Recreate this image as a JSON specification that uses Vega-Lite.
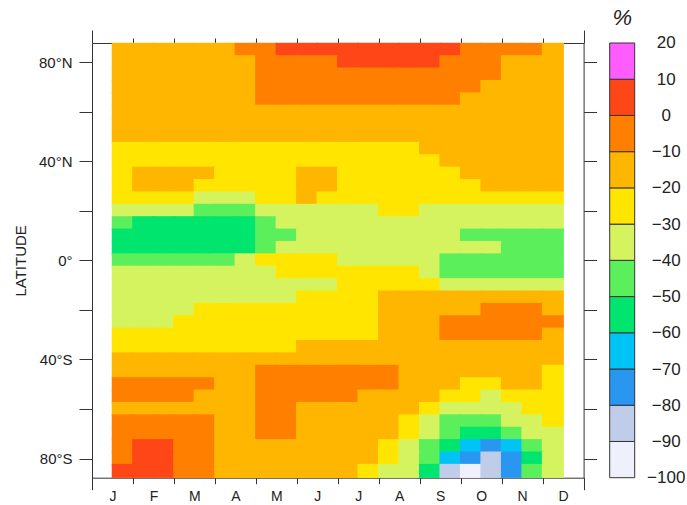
{
"$schema": "https://vega.github.io/schema/vega-lite/v6.json",
"background": "white",
"padding": {"left": 13, "top": 7, "right": 0, "bottom": 0},
"bounds": "flush",
"spacing": 25.7,
"config": {"view": {"stroke": null}, "font": "Liberation Sans", "axis": {"domainColor": "#333", "tickColor": "#333", "labelColor": "#222", "titleColor": "#222", "grid": false, "zindex": 1}},
"datasets": {"grid": [
{"m":0.75,"lat":85,"v":-15},{"m":1.25,"lat":85,"v":-15},{"m":1.75,"lat":85,"v":-15},{"m":2.25,"lat":85,"v":-15},{"m":2.75,"lat":85,"v":-15},{"m":3.25,"lat":85,"v":-15},{"m":3.75,"lat":85,"v":-5},{"m":4.25,"lat":85,"v":-5},{"m":4.75,"lat":85,"v":5},{"m":5.25,"lat":85,"v":5},{"m":5.75,"lat":85,"v":5},{"m":6.25,"lat":85,"v":5},{"m":6.75,"lat":85,"v":5},{"m":7.25,"lat":85,"v":5},{"m":7.75,"lat":85,"v":5},{"m":8.25,"lat":85,"v":5},{"m":8.75,"lat":85,"v":5},{"m":9.25,"lat":85,"v":-5},{"m":9.75,"lat":85,"v":-5},{"m":10.25,"lat":85,"v":-5},{"m":10.75,"lat":85,"v":-5},{"m":11.25,"lat":85,"v":-15},
{"m":0.75,"lat":80,"v":-15},{"m":1.25,"lat":80,"v":-15},{"m":1.75,"lat":80,"v":-15},{"m":2.25,"lat":80,"v":-15},{"m":2.75,"lat":80,"v":-15},{"m":3.25,"lat":80,"v":-15},{"m":3.75,"lat":80,"v":-15},{"m":4.25,"lat":80,"v":-5},{"m":4.75,"lat":80,"v":-5},{"m":5.25,"lat":80,"v":-5},{"m":5.75,"lat":80,"v":-5},{"m":6.25,"lat":80,"v":5},{"m":6.75,"lat":80,"v":5},{"m":7.25,"lat":80,"v":5},{"m":7.75,"lat":80,"v":5},{"m":8.25,"lat":80,"v":5},{"m":8.75,"lat":80,"v":-5},{"m":9.25,"lat":80,"v":-5},{"m":9.75,"lat":80,"v":-5},{"m":10.25,"lat":80,"v":-15},{"m":10.75,"lat":80,"v":-15},{"m":11.25,"lat":80,"v":-15},
{"m":0.75,"lat":75,"v":-15},{"m":1.25,"lat":75,"v":-15},{"m":1.75,"lat":75,"v":-15},{"m":2.25,"lat":75,"v":-15},{"m":2.75,"lat":75,"v":-15},{"m":3.25,"lat":75,"v":-15},{"m":3.75,"lat":75,"v":-15},{"m":4.25,"lat":75,"v":-5},{"m":4.75,"lat":75,"v":-5},{"m":5.25,"lat":75,"v":-5},{"m":5.75,"lat":75,"v":-5},{"m":6.25,"lat":75,"v":-5},{"m":6.75,"lat":75,"v":-5},{"m":7.25,"lat":75,"v":-5},{"m":7.75,"lat":75,"v":-5},{"m":8.25,"lat":75,"v":-5},{"m":8.75,"lat":75,"v":-5},{"m":9.25,"lat":75,"v":-5},{"m":9.75,"lat":75,"v":-5},{"m":10.25,"lat":75,"v":-15},{"m":10.75,"lat":75,"v":-15},{"m":11.25,"lat":75,"v":-15},
{"m":0.75,"lat":70,"v":-15},{"m":1.25,"lat":70,"v":-15},{"m":1.75,"lat":70,"v":-15},{"m":2.25,"lat":70,"v":-15},{"m":2.75,"lat":70,"v":-15},{"m":3.25,"lat":70,"v":-15},{"m":3.75,"lat":70,"v":-15},{"m":4.25,"lat":70,"v":-5},{"m":4.75,"lat":70,"v":-5},{"m":5.25,"lat":70,"v":-5},{"m":5.75,"lat":70,"v":-5},{"m":6.25,"lat":70,"v":-5},{"m":6.75,"lat":70,"v":-5},{"m":7.25,"lat":70,"v":-5},{"m":7.75,"lat":70,"v":-5},{"m":8.25,"lat":70,"v":-5},{"m":8.75,"lat":70,"v":-5},{"m":9.25,"lat":70,"v":-5},{"m":9.75,"lat":70,"v":-15},{"m":10.25,"lat":70,"v":-15},{"m":10.75,"lat":70,"v":-15},{"m":11.25,"lat":70,"v":-15},
{"m":0.75,"lat":65,"v":-15},{"m":1.25,"lat":65,"v":-15},{"m":1.75,"lat":65,"v":-15},{"m":2.25,"lat":65,"v":-15},{"m":2.75,"lat":65,"v":-15},{"m":3.25,"lat":65,"v":-15},{"m":3.75,"lat":65,"v":-15},{"m":4.25,"lat":65,"v":-5},{"m":4.75,"lat":65,"v":-5},{"m":5.25,"lat":65,"v":-5},{"m":5.75,"lat":65,"v":-5},{"m":6.25,"lat":65,"v":-5},{"m":6.75,"lat":65,"v":-5},{"m":7.25,"lat":65,"v":-5},{"m":7.75,"lat":65,"v":-5},{"m":8.25,"lat":65,"v":-5},{"m":8.75,"lat":65,"v":-5},{"m":9.25,"lat":65,"v":-15},{"m":9.75,"lat":65,"v":-15},{"m":10.25,"lat":65,"v":-15},{"m":10.75,"lat":65,"v":-15},{"m":11.25,"lat":65,"v":-15},
{"m":0.75,"lat":60,"v":-15},{"m":1.25,"lat":60,"v":-15},{"m":1.75,"lat":60,"v":-15},{"m":2.25,"lat":60,"v":-15},{"m":2.75,"lat":60,"v":-15},{"m":3.25,"lat":60,"v":-15},{"m":3.75,"lat":60,"v":-15},{"m":4.25,"lat":60,"v":-15},{"m":4.75,"lat":60,"v":-15},{"m":5.25,"lat":60,"v":-15},{"m":5.75,"lat":60,"v":-15},{"m":6.25,"lat":60,"v":-15},{"m":6.75,"lat":60,"v":-15},{"m":7.25,"lat":60,"v":-15},{"m":7.75,"lat":60,"v":-15},{"m":8.25,"lat":60,"v":-15},{"m":8.75,"lat":60,"v":-15},{"m":9.25,"lat":60,"v":-15},{"m":9.75,"lat":60,"v":-15},{"m":10.25,"lat":60,"v":-15},{"m":10.75,"lat":60,"v":-15},{"m":11.25,"lat":60,"v":-15},
{"m":0.75,"lat":55,"v":-15},{"m":1.25,"lat":55,"v":-15},{"m":1.75,"lat":55,"v":-15},{"m":2.25,"lat":55,"v":-15},{"m":2.75,"lat":55,"v":-15},{"m":3.25,"lat":55,"v":-15},{"m":3.75,"lat":55,"v":-15},{"m":4.25,"lat":55,"v":-15},{"m":4.75,"lat":55,"v":-15},{"m":5.25,"lat":55,"v":-15},{"m":5.75,"lat":55,"v":-15},{"m":6.25,"lat":55,"v":-15},{"m":6.75,"lat":55,"v":-15},{"m":7.25,"lat":55,"v":-15},{"m":7.75,"lat":55,"v":-15},{"m":8.25,"lat":55,"v":-15},{"m":8.75,"lat":55,"v":-15},{"m":9.25,"lat":55,"v":-15},{"m":9.75,"lat":55,"v":-15},{"m":10.25,"lat":55,"v":-15},{"m":10.75,"lat":55,"v":-15},{"m":11.25,"lat":55,"v":-15},
{"m":0.75,"lat":50,"v":-15},{"m":1.25,"lat":50,"v":-15},{"m":1.75,"lat":50,"v":-15},{"m":2.25,"lat":50,"v":-15},{"m":2.75,"lat":50,"v":-15},{"m":3.25,"lat":50,"v":-15},{"m":3.75,"lat":50,"v":-15},{"m":4.25,"lat":50,"v":-15},{"m":4.75,"lat":50,"v":-15},{"m":5.25,"lat":50,"v":-15},{"m":5.75,"lat":50,"v":-15},{"m":6.25,"lat":50,"v":-15},{"m":6.75,"lat":50,"v":-15},{"m":7.25,"lat":50,"v":-15},{"m":7.75,"lat":50,"v":-15},{"m":8.25,"lat":50,"v":-15},{"m":8.75,"lat":50,"v":-15},{"m":9.25,"lat":50,"v":-15},{"m":9.75,"lat":50,"v":-15},{"m":10.25,"lat":50,"v":-15},{"m":10.75,"lat":50,"v":-15},{"m":11.25,"lat":50,"v":-15},
{"m":0.75,"lat":45,"v":-25},{"m":1.25,"lat":45,"v":-25},{"m":1.75,"lat":45,"v":-25},{"m":2.25,"lat":45,"v":-25},{"m":2.75,"lat":45,"v":-25},{"m":3.25,"lat":45,"v":-25},{"m":3.75,"lat":45,"v":-25},{"m":4.25,"lat":45,"v":-25},{"m":4.75,"lat":45,"v":-25},{"m":5.25,"lat":45,"v":-25},{"m":5.75,"lat":45,"v":-25},{"m":6.25,"lat":45,"v":-25},{"m":6.75,"lat":45,"v":-25},{"m":7.25,"lat":45,"v":-25},{"m":7.75,"lat":45,"v":-25},{"m":8.25,"lat":45,"v":-15},{"m":8.75,"lat":45,"v":-15},{"m":9.25,"lat":45,"v":-15},{"m":9.75,"lat":45,"v":-15},{"m":10.25,"lat":45,"v":-15},{"m":10.75,"lat":45,"v":-15},{"m":11.25,"lat":45,"v":-15},
{"m":0.75,"lat":40,"v":-25},{"m":1.25,"lat":40,"v":-25},{"m":1.75,"lat":40,"v":-25},{"m":2.25,"lat":40,"v":-25},{"m":2.75,"lat":40,"v":-25},{"m":3.25,"lat":40,"v":-25},{"m":3.75,"lat":40,"v":-25},{"m":4.25,"lat":40,"v":-25},{"m":4.75,"lat":40,"v":-25},{"m":5.25,"lat":40,"v":-25},{"m":5.75,"lat":40,"v":-25},{"m":6.25,"lat":40,"v":-25},{"m":6.75,"lat":40,"v":-25},{"m":7.25,"lat":40,"v":-25},{"m":7.75,"lat":40,"v":-25},{"m":8.25,"lat":40,"v":-25},{"m":8.75,"lat":40,"v":-15},{"m":9.25,"lat":40,"v":-15},{"m":9.75,"lat":40,"v":-15},{"m":10.25,"lat":40,"v":-15},{"m":10.75,"lat":40,"v":-15},{"m":11.25,"lat":40,"v":-15},
{"m":0.75,"lat":35,"v":-25},{"m":1.25,"lat":35,"v":-15},{"m":1.75,"lat":35,"v":-15},{"m":2.25,"lat":35,"v":-15},{"m":2.75,"lat":35,"v":-15},{"m":3.25,"lat":35,"v":-25},{"m":3.75,"lat":35,"v":-25},{"m":4.25,"lat":35,"v":-25},{"m":4.75,"lat":35,"v":-25},{"m":5.25,"lat":35,"v":-15},{"m":5.75,"lat":35,"v":-15},{"m":6.25,"lat":35,"v":-25},{"m":6.75,"lat":35,"v":-25},{"m":7.25,"lat":35,"v":-25},{"m":7.75,"lat":35,"v":-25},{"m":8.25,"lat":35,"v":-25},{"m":8.75,"lat":35,"v":-25},{"m":9.25,"lat":35,"v":-15},{"m":9.75,"lat":35,"v":-15},{"m":10.25,"lat":35,"v":-15},{"m":10.75,"lat":35,"v":-15},{"m":11.25,"lat":35,"v":-15},
{"m":0.75,"lat":30,"v":-25},{"m":1.25,"lat":30,"v":-15},{"m":1.75,"lat":30,"v":-15},{"m":2.25,"lat":30,"v":-15},{"m":2.75,"lat":30,"v":-25},{"m":3.25,"lat":30,"v":-25},{"m":3.75,"lat":30,"v":-25},{"m":4.25,"lat":30,"v":-25},{"m":4.75,"lat":30,"v":-25},{"m":5.25,"lat":30,"v":-15},{"m":5.75,"lat":30,"v":-15},{"m":6.25,"lat":30,"v":-25},{"m":6.75,"lat":30,"v":-25},{"m":7.25,"lat":30,"v":-25},{"m":7.75,"lat":30,"v":-25},{"m":8.25,"lat":30,"v":-25},{"m":8.75,"lat":30,"v":-25},{"m":9.25,"lat":30,"v":-25},{"m":9.75,"lat":30,"v":-15},{"m":10.25,"lat":30,"v":-15},{"m":10.75,"lat":30,"v":-15},{"m":11.25,"lat":30,"v":-15},
{"m":0.75,"lat":25,"v":-25},{"m":1.25,"lat":25,"v":-25},{"m":1.75,"lat":25,"v":-25},{"m":2.25,"lat":25,"v":-25},{"m":2.75,"lat":25,"v":-35},{"m":3.25,"lat":25,"v":-35},{"m":3.75,"lat":25,"v":-35},{"m":4.25,"lat":25,"v":-25},{"m":4.75,"lat":25,"v":-25},{"m":5.25,"lat":25,"v":-15},{"m":5.75,"lat":25,"v":-25},{"m":6.25,"lat":25,"v":-25},{"m":6.75,"lat":25,"v":-25},{"m":7.25,"lat":25,"v":-25},{"m":7.75,"lat":25,"v":-25},{"m":8.25,"lat":25,"v":-25},{"m":8.75,"lat":25,"v":-25},{"m":9.25,"lat":25,"v":-25},{"m":9.75,"lat":25,"v":-25},{"m":10.25,"lat":25,"v":-25},{"m":10.75,"lat":25,"v":-25},{"m":11.25,"lat":25,"v":-25},
{"m":0.75,"lat":20,"v":-35},{"m":1.25,"lat":20,"v":-35},{"m":1.75,"lat":20,"v":-35},{"m":2.25,"lat":20,"v":-35},{"m":2.75,"lat":20,"v":-45},{"m":3.25,"lat":20,"v":-45},{"m":3.75,"lat":20,"v":-45},{"m":4.25,"lat":20,"v":-35},{"m":4.75,"lat":20,"v":-35},{"m":5.25,"lat":20,"v":-35},{"m":5.75,"lat":20,"v":-35},{"m":6.25,"lat":20,"v":-35},{"m":6.75,"lat":20,"v":-35},{"m":7.25,"lat":20,"v":-25},{"m":7.75,"lat":20,"v":-25},{"m":8.25,"lat":20,"v":-35},{"m":8.75,"lat":20,"v":-35},{"m":9.25,"lat":20,"v":-35},{"m":9.75,"lat":20,"v":-35},{"m":10.25,"lat":20,"v":-35},{"m":10.75,"lat":20,"v":-35},{"m":11.25,"lat":20,"v":-35},
{"m":0.75,"lat":15,"v":-45},{"m":1.25,"lat":15,"v":-55},{"m":1.75,"lat":15,"v":-55},{"m":2.25,"lat":15,"v":-55},{"m":2.75,"lat":15,"v":-55},{"m":3.25,"lat":15,"v":-55},{"m":3.75,"lat":15,"v":-55},{"m":4.25,"lat":15,"v":-45},{"m":4.75,"lat":15,"v":-35},{"m":5.25,"lat":15,"v":-35},{"m":5.75,"lat":15,"v":-35},{"m":6.25,"lat":15,"v":-35},{"m":6.75,"lat":15,"v":-35},{"m":7.25,"lat":15,"v":-35},{"m":7.75,"lat":15,"v":-35},{"m":8.25,"lat":15,"v":-35},{"m":8.75,"lat":15,"v":-35},{"m":9.25,"lat":15,"v":-35},{"m":9.75,"lat":15,"v":-35},{"m":10.25,"lat":15,"v":-35},{"m":10.75,"lat":15,"v":-35},{"m":11.25,"lat":15,"v":-35},
{"m":0.75,"lat":10,"v":-55},{"m":1.25,"lat":10,"v":-55},{"m":1.75,"lat":10,"v":-55},{"m":2.25,"lat":10,"v":-55},{"m":2.75,"lat":10,"v":-55},{"m":3.25,"lat":10,"v":-55},{"m":3.75,"lat":10,"v":-55},{"m":4.25,"lat":10,"v":-45},{"m":4.75,"lat":10,"v":-45},{"m":5.25,"lat":10,"v":-35},{"m":5.75,"lat":10,"v":-35},{"m":6.25,"lat":10,"v":-35},{"m":6.75,"lat":10,"v":-35},{"m":7.25,"lat":10,"v":-35},{"m":7.75,"lat":10,"v":-35},{"m":8.25,"lat":10,"v":-35},{"m":8.75,"lat":10,"v":-35},{"m":9.25,"lat":10,"v":-45},{"m":9.75,"lat":10,"v":-45},{"m":10.25,"lat":10,"v":-45},{"m":10.75,"lat":10,"v":-45},{"m":11.25,"lat":10,"v":-45},
{"m":0.75,"lat":5,"v":-55},{"m":1.25,"lat":5,"v":-55},{"m":1.75,"lat":5,"v":-55},{"m":2.25,"lat":5,"v":-55},{"m":2.75,"lat":5,"v":-55},{"m":3.25,"lat":5,"v":-55},{"m":3.75,"lat":5,"v":-55},{"m":4.25,"lat":5,"v":-45},{"m":4.75,"lat":5,"v":-35},{"m":5.25,"lat":5,"v":-35},{"m":5.75,"lat":5,"v":-35},{"m":6.25,"lat":5,"v":-35},{"m":6.75,"lat":5,"v":-35},{"m":7.25,"lat":5,"v":-35},{"m":7.75,"lat":5,"v":-35},{"m":8.25,"lat":5,"v":-35},{"m":8.75,"lat":5,"v":-35},{"m":9.25,"lat":5,"v":-35},{"m":9.75,"lat":5,"v":-35},{"m":10.25,"lat":5,"v":-45},{"m":10.75,"lat":5,"v":-45},{"m":11.25,"lat":5,"v":-45},
{"m":0.75,"lat":0,"v":-45},{"m":1.25,"lat":0,"v":-45},{"m":1.75,"lat":0,"v":-45},{"m":2.25,"lat":0,"v":-45},{"m":2.75,"lat":0,"v":-45},{"m":3.25,"lat":0,"v":-45},{"m":3.75,"lat":0,"v":-35},{"m":4.25,"lat":0,"v":-25},{"m":4.75,"lat":0,"v":-25},{"m":5.25,"lat":0,"v":-25},{"m":5.75,"lat":0,"v":-25},{"m":6.25,"lat":0,"v":-35},{"m":6.75,"lat":0,"v":-35},{"m":7.25,"lat":0,"v":-35},{"m":7.75,"lat":0,"v":-35},{"m":8.25,"lat":0,"v":-35},{"m":8.75,"lat":0,"v":-45},{"m":9.25,"lat":0,"v":-45},{"m":9.75,"lat":0,"v":-45},{"m":10.25,"lat":0,"v":-45},{"m":10.75,"lat":0,"v":-45},{"m":11.25,"lat":0,"v":-45},
{"m":0.75,"lat":-5,"v":-35},{"m":1.25,"lat":-5,"v":-35},{"m":1.75,"lat":-5,"v":-35},{"m":2.25,"lat":-5,"v":-35},{"m":2.75,"lat":-5,"v":-35},{"m":3.25,"lat":-5,"v":-35},{"m":3.75,"lat":-5,"v":-35},{"m":4.25,"lat":-5,"v":-35},{"m":4.75,"lat":-5,"v":-25},{"m":5.25,"lat":-5,"v":-25},{"m":5.75,"lat":-5,"v":-25},{"m":6.25,"lat":-5,"v":-25},{"m":6.75,"lat":-5,"v":-25},{"m":7.25,"lat":-5,"v":-25},{"m":7.75,"lat":-5,"v":-25},{"m":8.25,"lat":-5,"v":-35},{"m":8.75,"lat":-5,"v":-45},{"m":9.25,"lat":-5,"v":-45},{"m":9.75,"lat":-5,"v":-45},{"m":10.25,"lat":-5,"v":-45},{"m":10.75,"lat":-5,"v":-45},{"m":11.25,"lat":-5,"v":-45},
{"m":0.75,"lat":-10,"v":-35},{"m":1.25,"lat":-10,"v":-35},{"m":1.75,"lat":-10,"v":-35},{"m":2.25,"lat":-10,"v":-35},{"m":2.75,"lat":-10,"v":-35},{"m":3.25,"lat":-10,"v":-35},{"m":3.75,"lat":-10,"v":-35},{"m":4.25,"lat":-10,"v":-35},{"m":4.75,"lat":-10,"v":-35},{"m":5.25,"lat":-10,"v":-35},{"m":5.75,"lat":-10,"v":-35},{"m":6.25,"lat":-10,"v":-25},{"m":6.75,"lat":-10,"v":-25},{"m":7.25,"lat":-10,"v":-25},{"m":7.75,"lat":-10,"v":-25},{"m":8.25,"lat":-10,"v":-25},{"m":8.75,"lat":-10,"v":-35},{"m":9.25,"lat":-10,"v":-35},{"m":9.75,"lat":-10,"v":-35},{"m":10.25,"lat":-10,"v":-35},{"m":10.75,"lat":-10,"v":-35},{"m":11.25,"lat":-10,"v":-35},
{"m":0.75,"lat":-15,"v":-35},{"m":1.25,"lat":-15,"v":-35},{"m":1.75,"lat":-15,"v":-35},{"m":2.25,"lat":-15,"v":-35},{"m":2.75,"lat":-15,"v":-35},{"m":3.25,"lat":-15,"v":-35},{"m":3.75,"lat":-15,"v":-35},{"m":4.25,"lat":-15,"v":-35},{"m":4.75,"lat":-15,"v":-35},{"m":5.25,"lat":-15,"v":-25},{"m":5.75,"lat":-15,"v":-25},{"m":6.25,"lat":-15,"v":-25},{"m":6.75,"lat":-15,"v":-25},{"m":7.25,"lat":-15,"v":-15},{"m":7.75,"lat":-15,"v":-15},{"m":8.25,"lat":-15,"v":-15},{"m":8.75,"lat":-15,"v":-15},{"m":9.25,"lat":-15,"v":-15},{"m":9.75,"lat":-15,"v":-15},{"m":10.25,"lat":-15,"v":-15},{"m":10.75,"lat":-15,"v":-15},{"m":11.25,"lat":-15,"v":-15},
{"m":0.75,"lat":-20,"v":-35},{"m":1.25,"lat":-20,"v":-35},{"m":1.75,"lat":-20,"v":-35},{"m":2.25,"lat":-20,"v":-35},{"m":2.75,"lat":-20,"v":-25},{"m":3.25,"lat":-20,"v":-25},{"m":3.75,"lat":-20,"v":-25},{"m":4.25,"lat":-20,"v":-25},{"m":4.75,"lat":-20,"v":-25},{"m":5.25,"lat":-20,"v":-25},{"m":5.75,"lat":-20,"v":-25},{"m":6.25,"lat":-20,"v":-25},{"m":6.75,"lat":-20,"v":-25},{"m":7.25,"lat":-20,"v":-15},{"m":7.75,"lat":-20,"v":-15},{"m":8.25,"lat":-20,"v":-15},{"m":8.75,"lat":-20,"v":-15},{"m":9.25,"lat":-20,"v":-15},{"m":9.75,"lat":-20,"v":-5},{"m":10.25,"lat":-20,"v":-5},{"m":10.75,"lat":-20,"v":-5},{"m":11.25,"lat":-20,"v":-15},
{"m":0.75,"lat":-25,"v":-35},{"m":1.25,"lat":-25,"v":-35},{"m":1.75,"lat":-25,"v":-35},{"m":2.25,"lat":-25,"v":-25},{"m":2.75,"lat":-25,"v":-25},{"m":3.25,"lat":-25,"v":-25},{"m":3.75,"lat":-25,"v":-25},{"m":4.25,"lat":-25,"v":-25},{"m":4.75,"lat":-25,"v":-25},{"m":5.25,"lat":-25,"v":-25},{"m":5.75,"lat":-25,"v":-25},{"m":6.25,"lat":-25,"v":-25},{"m":6.75,"lat":-25,"v":-25},{"m":7.25,"lat":-25,"v":-15},{"m":7.75,"lat":-25,"v":-15},{"m":8.25,"lat":-25,"v":-15},{"m":8.75,"lat":-25,"v":-5},{"m":9.25,"lat":-25,"v":-5},{"m":9.75,"lat":-25,"v":-5},{"m":10.25,"lat":-25,"v":-5},{"m":10.75,"lat":-25,"v":-5},{"m":11.25,"lat":-25,"v":-5},
{"m":0.75,"lat":-30,"v":-25},{"m":1.25,"lat":-30,"v":-25},{"m":1.75,"lat":-30,"v":-25},{"m":2.25,"lat":-30,"v":-25},{"m":2.75,"lat":-30,"v":-25},{"m":3.25,"lat":-30,"v":-25},{"m":3.75,"lat":-30,"v":-25},{"m":4.25,"lat":-30,"v":-25},{"m":4.75,"lat":-30,"v":-25},{"m":5.25,"lat":-30,"v":-25},{"m":5.75,"lat":-30,"v":-25},{"m":6.25,"lat":-30,"v":-25},{"m":6.75,"lat":-30,"v":-25},{"m":7.25,"lat":-30,"v":-15},{"m":7.75,"lat":-30,"v":-15},{"m":8.25,"lat":-30,"v":-15},{"m":8.75,"lat":-30,"v":-5},{"m":9.25,"lat":-30,"v":-5},{"m":9.75,"lat":-30,"v":-5},{"m":10.25,"lat":-30,"v":-5},{"m":10.75,"lat":-30,"v":-5},{"m":11.25,"lat":-30,"v":-15},
{"m":0.75,"lat":-35,"v":-25},{"m":1.25,"lat":-35,"v":-25},{"m":1.75,"lat":-35,"v":-25},{"m":2.25,"lat":-35,"v":-25},{"m":2.75,"lat":-35,"v":-25},{"m":3.25,"lat":-35,"v":-25},{"m":3.75,"lat":-35,"v":-25},{"m":4.25,"lat":-35,"v":-25},{"m":4.75,"lat":-35,"v":-25},{"m":5.25,"lat":-35,"v":-15},{"m":5.75,"lat":-35,"v":-15},{"m":6.25,"lat":-35,"v":-15},{"m":6.75,"lat":-35,"v":-15},{"m":7.25,"lat":-35,"v":-15},{"m":7.75,"lat":-35,"v":-15},{"m":8.25,"lat":-35,"v":-15},{"m":8.75,"lat":-35,"v":-15},{"m":9.25,"lat":-35,"v":-15},{"m":9.75,"lat":-35,"v":-15},{"m":10.25,"lat":-35,"v":-15},{"m":10.75,"lat":-35,"v":-15},{"m":11.25,"lat":-35,"v":-15},
{"m":0.75,"lat":-40,"v":-15},{"m":1.25,"lat":-40,"v":-15},{"m":1.75,"lat":-40,"v":-15},{"m":2.25,"lat":-40,"v":-15},{"m":2.75,"lat":-40,"v":-15},{"m":3.25,"lat":-40,"v":-15},{"m":3.75,"lat":-40,"v":-15},{"m":4.25,"lat":-40,"v":-15},{"m":4.75,"lat":-40,"v":-15},{"m":5.25,"lat":-40,"v":-15},{"m":5.75,"lat":-40,"v":-15},{"m":6.25,"lat":-40,"v":-15},{"m":6.75,"lat":-40,"v":-15},{"m":7.25,"lat":-40,"v":-15},{"m":7.75,"lat":-40,"v":-15},{"m":8.25,"lat":-40,"v":-15},{"m":8.75,"lat":-40,"v":-15},{"m":9.25,"lat":-40,"v":-15},{"m":9.75,"lat":-40,"v":-15},{"m":10.25,"lat":-40,"v":-15},{"m":10.75,"lat":-40,"v":-15},{"m":11.25,"lat":-40,"v":-15},
{"m":0.75,"lat":-45,"v":-15},{"m":1.25,"lat":-45,"v":-15},{"m":1.75,"lat":-45,"v":-15},{"m":2.25,"lat":-45,"v":-15},{"m":2.75,"lat":-45,"v":-15},{"m":3.25,"lat":-45,"v":-15},{"m":3.75,"lat":-45,"v":-15},{"m":4.25,"lat":-45,"v":-5},{"m":4.75,"lat":-45,"v":-5},{"m":5.25,"lat":-45,"v":-5},{"m":5.75,"lat":-45,"v":-5},{"m":6.25,"lat":-45,"v":-5},{"m":6.75,"lat":-45,"v":-5},{"m":7.25,"lat":-45,"v":-5},{"m":7.75,"lat":-45,"v":-15},{"m":8.25,"lat":-45,"v":-15},{"m":8.75,"lat":-45,"v":-15},{"m":9.25,"lat":-45,"v":-15},{"m":9.75,"lat":-45,"v":-15},{"m":10.25,"lat":-45,"v":-15},{"m":10.75,"lat":-45,"v":-15},{"m":11.25,"lat":-45,"v":-25},
{"m":0.75,"lat":-50,"v":-5},{"m":1.25,"lat":-50,"v":-5},{"m":1.75,"lat":-50,"v":-5},{"m":2.25,"lat":-50,"v":-5},{"m":2.75,"lat":-50,"v":-5},{"m":3.25,"lat":-50,"v":-15},{"m":3.75,"lat":-50,"v":-15},{"m":4.25,"lat":-50,"v":-5},{"m":4.75,"lat":-50,"v":-5},{"m":5.25,"lat":-50,"v":-5},{"m":5.75,"lat":-50,"v":-5},{"m":6.25,"lat":-50,"v":-5},{"m":6.75,"lat":-50,"v":-5},{"m":7.25,"lat":-50,"v":-5},{"m":7.75,"lat":-50,"v":-15},{"m":8.25,"lat":-50,"v":-15},{"m":8.75,"lat":-50,"v":-15},{"m":9.25,"lat":-50,"v":-25},{"m":9.75,"lat":-50,"v":-25},{"m":10.25,"lat":-50,"v":-15},{"m":10.75,"lat":-50,"v":-15},{"m":11.25,"lat":-50,"v":-25},
{"m":0.75,"lat":-55,"v":-5},{"m":1.25,"lat":-55,"v":-5},{"m":1.75,"lat":-55,"v":-5},{"m":2.25,"lat":-55,"v":-5},{"m":2.75,"lat":-55,"v":-15},{"m":3.25,"lat":-55,"v":-15},{"m":3.75,"lat":-55,"v":-15},{"m":4.25,"lat":-55,"v":-5},{"m":4.75,"lat":-55,"v":-5},{"m":5.25,"lat":-55,"v":-5},{"m":5.75,"lat":-55,"v":-5},{"m":6.25,"lat":-55,"v":-5},{"m":6.75,"lat":-55,"v":-15},{"m":7.25,"lat":-55,"v":-15},{"m":7.75,"lat":-55,"v":-15},{"m":8.25,"lat":-55,"v":-15},{"m":8.75,"lat":-55,"v":-25},{"m":9.25,"lat":-55,"v":-25},{"m":9.75,"lat":-55,"v":-35},{"m":10.25,"lat":-55,"v":-25},{"m":10.75,"lat":-55,"v":-25},{"m":11.25,"lat":-55,"v":-25},
{"m":0.75,"lat":-60,"v":-15},{"m":1.25,"lat":-60,"v":-15},{"m":1.75,"lat":-60,"v":-15},{"m":2.25,"lat":-60,"v":-15},{"m":2.75,"lat":-60,"v":-15},{"m":3.25,"lat":-60,"v":-15},{"m":3.75,"lat":-60,"v":-15},{"m":4.25,"lat":-60,"v":-5},{"m":4.75,"lat":-60,"v":-5},{"m":5.25,"lat":-60,"v":-15},{"m":5.75,"lat":-60,"v":-15},{"m":6.25,"lat":-60,"v":-15},{"m":6.75,"lat":-60,"v":-15},{"m":7.25,"lat":-60,"v":-15},{"m":7.75,"lat":-60,"v":-15},{"m":8.25,"lat":-60,"v":-25},{"m":8.75,"lat":-60,"v":-35},{"m":9.25,"lat":-60,"v":-35},{"m":9.75,"lat":-60,"v":-35},{"m":10.25,"lat":-60,"v":-35},{"m":10.75,"lat":-60,"v":-25},{"m":11.25,"lat":-60,"v":-25},
{"m":0.75,"lat":-65,"v":-5},{"m":1.25,"lat":-65,"v":-5},{"m":1.75,"lat":-65,"v":-5},{"m":2.25,"lat":-65,"v":-5},{"m":2.75,"lat":-65,"v":-5},{"m":3.25,"lat":-65,"v":-15},{"m":3.75,"lat":-65,"v":-15},{"m":4.25,"lat":-65,"v":-5},{"m":4.75,"lat":-65,"v":-5},{"m":5.25,"lat":-65,"v":-15},{"m":5.75,"lat":-65,"v":-15},{"m":6.25,"lat":-65,"v":-15},{"m":6.75,"lat":-65,"v":-15},{"m":7.25,"lat":-65,"v":-15},{"m":7.75,"lat":-65,"v":-25},{"m":8.25,"lat":-65,"v":-35},{"m":8.75,"lat":-65,"v":-45},{"m":9.25,"lat":-65,"v":-45},{"m":9.75,"lat":-65,"v":-45},{"m":10.25,"lat":-65,"v":-35},{"m":10.75,"lat":-65,"v":-35},{"m":11.25,"lat":-65,"v":-25},
{"m":0.75,"lat":-70,"v":-5},{"m":1.25,"lat":-70,"v":-5},{"m":1.75,"lat":-70,"v":-5},{"m":2.25,"lat":-70,"v":-5},{"m":2.75,"lat":-70,"v":-5},{"m":3.25,"lat":-70,"v":-15},{"m":3.75,"lat":-70,"v":-15},{"m":4.25,"lat":-70,"v":-5},{"m":4.75,"lat":-70,"v":-5},{"m":5.25,"lat":-70,"v":-15},{"m":5.75,"lat":-70,"v":-15},{"m":6.25,"lat":-70,"v":-15},{"m":6.75,"lat":-70,"v":-15},{"m":7.25,"lat":-70,"v":-15},{"m":7.75,"lat":-70,"v":-25},{"m":8.25,"lat":-70,"v":-35},{"m":8.75,"lat":-70,"v":-45},{"m":9.25,"lat":-70,"v":-55},{"m":9.75,"lat":-70,"v":-55},{"m":10.25,"lat":-70,"v":-45},{"m":10.75,"lat":-70,"v":-35},{"m":11.25,"lat":-70,"v":-35},
{"m":0.75,"lat":-75,"v":-5},{"m":1.25,"lat":-75,"v":5},{"m":1.75,"lat":-75,"v":5},{"m":2.25,"lat":-75,"v":-5},{"m":2.75,"lat":-75,"v":-5},{"m":3.25,"lat":-75,"v":-15},{"m":3.75,"lat":-75,"v":-15},{"m":4.25,"lat":-75,"v":-15},{"m":4.75,"lat":-75,"v":-15},{"m":5.25,"lat":-75,"v":-15},{"m":5.75,"lat":-75,"v":-15},{"m":6.25,"lat":-75,"v":-15},{"m":6.75,"lat":-75,"v":-15},{"m":7.25,"lat":-75,"v":-25},{"m":7.75,"lat":-75,"v":-35},{"m":8.25,"lat":-75,"v":-45},{"m":8.75,"lat":-75,"v":-55},{"m":9.25,"lat":-75,"v":-65},{"m":9.75,"lat":-75,"v":-75},{"m":10.25,"lat":-75,"v":-65},{"m":10.75,"lat":-75,"v":-45},{"m":11.25,"lat":-75,"v":-35},
{"m":0.75,"lat":-80,"v":-5},{"m":1.25,"lat":-80,"v":5},{"m":1.75,"lat":-80,"v":5},{"m":2.25,"lat":-80,"v":-5},{"m":2.75,"lat":-80,"v":-5},{"m":3.25,"lat":-80,"v":-15},{"m":3.75,"lat":-80,"v":-15},{"m":4.25,"lat":-80,"v":-15},{"m":4.75,"lat":-80,"v":-15},{"m":5.25,"lat":-80,"v":-15},{"m":5.75,"lat":-80,"v":-15},{"m":6.25,"lat":-80,"v":-15},{"m":6.75,"lat":-80,"v":-15},{"m":7.25,"lat":-80,"v":-25},{"m":7.75,"lat":-80,"v":-35},{"m":8.25,"lat":-80,"v":-45},{"m":8.75,"lat":-80,"v":-65},{"m":9.25,"lat":-80,"v":-75},{"m":9.75,"lat":-80,"v":-85},{"m":10.25,"lat":-80,"v":-75},{"m":10.75,"lat":-80,"v":-55},{"m":11.25,"lat":-80,"v":-35},
{"m":0.75,"lat":-85,"v":5},{"m":1.25,"lat":-85,"v":5},{"m":1.75,"lat":-85,"v":5},{"m":2.25,"lat":-85,"v":-5},{"m":2.75,"lat":-85,"v":-5},{"m":3.25,"lat":-85,"v":-15},{"m":3.75,"lat":-85,"v":-15},{"m":4.25,"lat":-85,"v":-15},{"m":4.75,"lat":-85,"v":-15},{"m":5.25,"lat":-85,"v":-15},{"m":5.75,"lat":-85,"v":-15},{"m":6.25,"lat":-85,"v":-15},{"m":6.75,"lat":-85,"v":-25},{"m":7.25,"lat":-85,"v":-35},{"m":7.75,"lat":-85,"v":-35},{"m":8.25,"lat":-85,"v":-55},{"m":8.75,"lat":-85,"v":-85},{"m":9.25,"lat":-85,"v":-95},{"m":9.75,"lat":-85,"v":-85},{"m":10.25,"lat":-85,"v":-75},{"m":10.75,"lat":-85,"v":-45},{"m":11.25,"lat":-85,"v":-35}
]},
"hconcat": [
{
"width": 491.6,
"height": 434.7,
"layer": [
{
"data": {"name": "grid"},
"mark": {"type": "rect", "width": 22, "height": 14},
"encoding": {
"x": {"field": "m", "type": "quantitative", "scale": {"domain": [0, 12], "nice": false, "zero": false},
"axis": {"orient": "bottom", "values": [0,1,2,3,4,5,6,7,8,9,10,11,12], "tickSize": 6, "labelExpr": "datum.value < 12 ? ['J','F','M','A','M','J','J','A','S','O','N','D'][datum.value] : ''", "labelOffset": 20.5, "labelFontSize": 14, "labelPadding": 6, "labelFlush": false, "labelOverlap": false, "labelBound": false, "title": null}},
"y": {"field": "lat", "type": "quantitative", "scale": {"domain": [-87.75, 87.75], "nice": false, "zero": false},
"axis": {"orient": "left", "values": [-80,-60,-40,-20,0,20,40,60,80], "tickSize": 13, "labelExpr": "datum.value == 0 ? '0°' : (abs(datum.value) % 40 == 0 ? abs(datum.value) + '°' + (datum.value > 0 ? 'N' : 'S') : '')", "labelFontSize": 15, "labelPadding": 7, "labelOverlap": false, "labelFlush": false, "title": "LATITUDE", "titleFontSize": 15, "titleFontWeight": "normal", "titlePadding": 10}},
"color": {"field": "v", "type": "quantitative", "scale": {"type": "threshold", "domain": [-90,-80,-70,-60,-50,-40,-30,-20,-10,0,10], "range": ["#eef0fc","#c0cde8","#2997f0","#00c4f6","#00e56e","#5cef5c","#d5f35f","#ffe500","#ffb600","#ff8000","#ff4616","#ff5cff"]}, "legend": null}
}
},
{
"data": {"values": [{"m": 6, "lat": 0}]},
"mark": {"type": "point", "opacity": 0},
"encoding": {
"x": {"field": "m", "type": "quantitative", "scale": {"domain": [0, 12], "nice": false, "zero": false}, "axis": {"orient": "top", "values": [1,2,3,4,5,6,7,8,9,10,11], "tickSize": 5, "labels": false, "title": null}},
"y": {"field": "lat", "type": "quantitative", "scale": {"domain": [-87.75, 87.75], "nice": false, "zero": false}, "axis": {"orient": "right", "values": [-80,-60,-40,-20,0,20,40,60,80], "tickSize": 13, "labels": false, "title": null}}
}
},
{
"data": {"values": [{"m": 6, "lat": 0}]},
"mark": {"type": "point", "opacity": 0},
"encoding": {
"x": {"field": "m", "type": "quantitative", "scale": {"domain": [0, 12], "nice": false, "zero": false}, "axis": {"orient": "bottom", "values": [0, 12], "tickSize": 12, "labels": false, "domain": false, "title": null}},
"y": {"field": "lat", "type": "quantitative", "scale": {"domain": [-87.75, 87.75], "nice": false, "zero": false}, "axis": null}
}
},
{
"data": {"values": [{"m": 6, "lat": 0}]},
"mark": {"type": "point", "opacity": 0},
"encoding": {
"x": {"field": "m", "type": "quantitative", "scale": {"domain": [0, 12], "nice": false, "zero": false}, "axis": {"orient": "top", "values": [0, 12], "tickSize": 13, "labels": false, "domain": false, "title": null}},
"y": {"field": "lat", "type": "quantitative", "scale": {"domain": [-87.75, 87.75], "nice": false, "zero": false}, "axis": null}
}
}
],
"resolve": {"axis": {"x": "independent", "y": "independent"}}
},
{
"width": 25,
"height": 434.7,
"title": {"text": "%", "fontSize": 22, "fontStyle": "italic", "fontWeight": "normal", "anchor": "middle", "offset": 4, "color": "#222"},
"data": {"values": [
{"lo": -100, "hi": -90, "v": -95},{"lo": -90, "hi": -80, "v": -85},{"lo": -80, "hi": -70, "v": -75},{"lo": -70, "hi": -60, "v": -65},{"lo": -60, "hi": -50, "v": -55},{"lo": -50, "hi": -40, "v": -45},{"lo": -40, "hi": -30, "v": -35},{"lo": -30, "hi": -20, "v": -25},{"lo": -20, "hi": -10, "v": -15},{"lo": -10, "hi": 0, "v": -5},{"lo": 0, "hi": 10, "v": 5},{"lo": 10, "hi": 20, "v": 15}
]},
"mark": {"type": "rect", "stroke": "#333", "strokeWidth": 1},
"encoding": {
"y": {"field": "lo", "type": "quantitative", "scale": {"domain": [-100, 20], "nice": false, "zero": false},
"axis": {"orient": "right", "values": [-100,-90,-80,-70,-60,-50,-40,-30,-20,-10,0,10,20], "domain": false, "ticks": false, "labelFontSize": 17, "labelAlign": "center", "labelPadding": 31, "labelOverlap": false, "labelFlush": false, "labelBound": false, "title": null}},
"y2": {"field": "hi"},
"color": {"field": "v", "type": "quantitative", "scale": {"type": "threshold", "domain": [-90,-80,-70,-60,-50,-40,-30,-20,-10,0,10], "range": ["#eef0fc","#c0cde8","#2997f0","#00c4f6","#00e56e","#5cef5c","#d5f35f","#ffe500","#ffb600","#ff8000","#ff4616","#ff5cff"]}, "legend": null}
}
}
],
"resolve": {"scale": {"x": "independent", "y": "independent", "color": "independent"}, "axis": {"y": "independent"}}
}
